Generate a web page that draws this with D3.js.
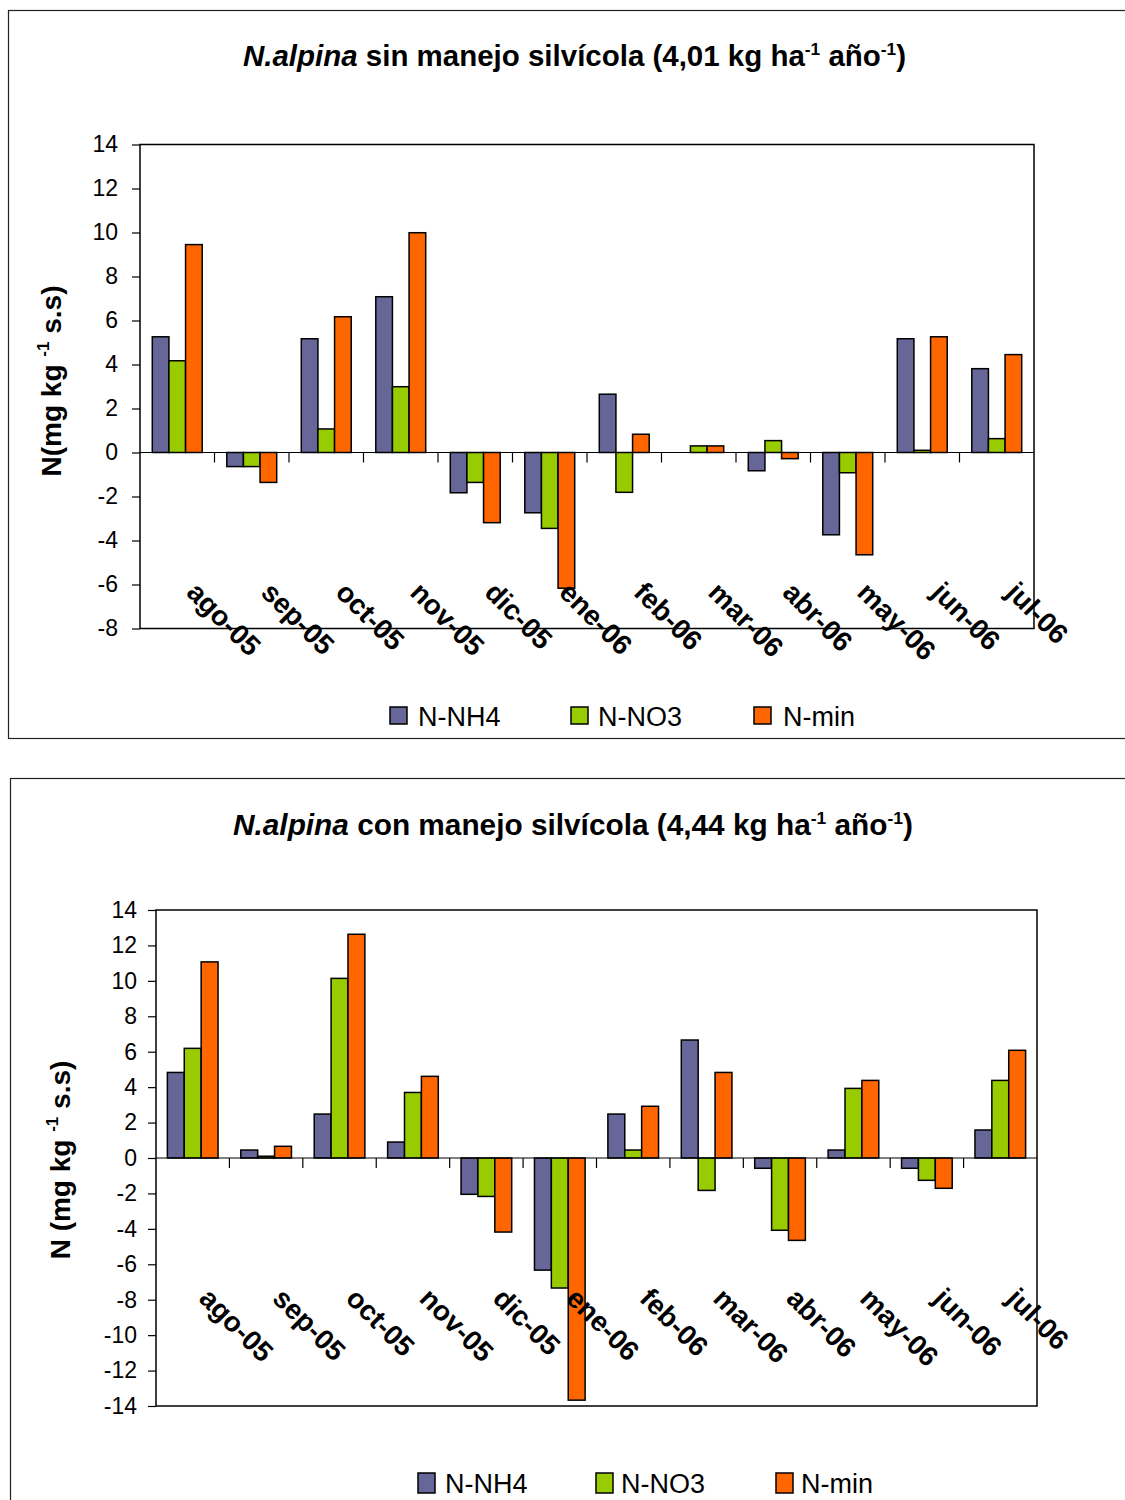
<!DOCTYPE html>
<html><head><meta charset="utf-8">
<script src="https://cdn.jsdelivr.net/npm/d3@7"></script>
<style>
html,body{margin:0;padding:0;background:#fff;}
svg{display:block;font-family:"Liberation Sans",Arial,sans-serif;}
</style></head>
<body>
<svg id="chart" width="1125" height="1500"></svg>
<script>
const categories = ["ago-05","sep-05","oct-05","nov-05","dic-05","ene-06","feb-06","mar-06","abr-06","may-06","jun-06","jul-06"];
const seriesNames = ["N-NH4","N-NO3","N-min"];
const seriesColors = ["#666699","#99CC00","#FF6600"];

const sinNH4  = [5.26,-0.64,5.17,7.08,-1.83,-2.74,2.65,0,-0.83,-3.74,5.17,3.81];
const sinNO3  = [4.17,-0.64,1.07,2.99,-1.36,-3.45,-1.81,0.3,0.54,-0.92,0.1,0.63];
const sinNmin = [9.45,-1.36,6.17,9.99,-3.19,-6.17,0.83,0.3,-0.28,-4.65,5.26,4.45];

const conNH4  = [4.83,0.45,2.48,0.9,-2.05,-6.33,2.48,6.66,-0.58,0.45,-0.58,1.58];
const conNO3  = [6.19,0.1,10.14,3.7,-2.17,-7.34,0.45,-1.83,-4.08,3.93,-1.26,4.38];
const conNmin = [11.07,0.66,12.63,4.61,-4.18,-13.67,2.92,4.83,-4.65,4.38,-1.71,6.08];

const sinTicks = [14,12,10,8,6,4,2,0,-2,-4,-6,-8];
const conTicks = [14,12,10,8,6,4,2,0,-2,-4,-6,-8,-10,-12,-14];

const svg = d3.select("#chart");

function drawChart(cfg){
  const g = svg.append("g");
  g.append("rect").attr("x",cfg.frame[0]+0.5).attr("y",cfg.frame[1]+0.5)
    .attr("width",cfg.frame[2]).attr("height",cfg.frame[3])
    .attr("fill","none").attr("stroke","#222").attr("stroke-width",1.2);

  const t = g.append("text").attr("x",cfg.titleX).attr("y",cfg.titleY)
    .attr("font-size",29).attr("font-weight","bold").attr("fill","#000")
    .attr("textLength",cfg.titleLen).attr("lengthAdjust","spacingAndGlyphs");
  t.append("tspan").attr("font-style","italic").text("N.alpina");
  t.append("tspan").text(cfg.titleMid);
  t.append("tspan").attr("font-size",17).attr("dy",-11).text("-1");
  t.append("tspan").attr("dy",11).text(" año");
  t.append("tspan").attr("font-size",17).attr("dy",-11).text("-1");
  t.append("tspan").attr("dy",11).text(")");

  const L = cfg.plot[0], T = cfg.plot[1], R = cfg.plot[2], B = cfg.plot[3];
  const y = d3.scaleLinear().domain([cfg.ymin, 14]).range([B, T]);
  const x0 = d3.scaleBand().domain(categories).range([L, R])
    .paddingInner(cfg.pad).paddingOuter(cfg.pad/2);
  const x1 = d3.scaleBand().domain(seriesNames).range([0, x0.bandwidth()]);

  g.append("rect").attr("x",L).attr("y",T).attr("width",R-L).attr("height",B-T)
    .attr("fill","#fff").attr("stroke","#000").attr("stroke-width",1.5);

  const ya = g.append("g").attr("transform",`translate(${L},0)`)
    .call(d3.axisLeft(y).tickValues(cfg.ticks).tickSize(8).tickPadding(cfg.tickPad).tickFormat(d=>String(d)));
  ya.select(".domain").remove();
  ya.selectAll("line").attr("stroke","#000").attr("stroke-width",1.2);
  ya.selectAll("text").attr("font-size",23).attr("fill","#000")
    .attr("font-family","Liberation Sans, Arial, sans-serif");

  const rows = categories.map((c,i)=>({c, vals:cfg.series.map((s,j)=>({k:seriesNames[j], v:s[i], col:seriesColors[j]}))}));
  const grp = g.selectAll(".grp").data(rows).join("g")
    .attr("transform",d=>`translate(${x0(d.c)},0)`);
  grp.selectAll("rect").data(d=>d.vals.filter(v=>v.v!==0)).join("rect")
    .attr("x",d=>x1(d.k)).attr("width",x1.bandwidth())
    .attr("y",d=>y(Math.max(0,d.v))).attr("height",d=>Math.abs(y(d.v)-y(0)))
    .attr("fill",d=>d.col).attr("stroke","#000").attr("stroke-width",1.5);

  g.append("line").attr("x1",L).attr("x2",R).attr("y1",y(0)).attr("y2",y(0))
    .attr("stroke","#000").attr("stroke-width",1.2);
  const step = x0.step();
  d3.range(1, categories.length).forEach(i=>{
    const xx = L + step*i;
    g.append("line").attr("x1",xx).attr("x2",xx).attr("y1",y(0)).attr("y2",y(0)+10)
      .attr("stroke","#000").attr("stroke-width",1.2);
  });

  g.selectAll(".xl").data(categories).join("text")
    .attr("transform",d=>`translate(${x0(d)+x0.bandwidth()/2+cfg.labDx},${cfg.labY}) rotate(45)`)
    .attr("font-size",28).attr("font-weight","bold").attr("fill","#000")
    .text(d=>d);

  const yt = g.append("text").attr("transform",`translate(${cfg.ytX},${cfg.ytY}) rotate(-90)`)
    .attr("text-anchor","middle").attr("font-size",28).attr("font-weight","bold").attr("fill","#000");
  yt.append("tspan").text(cfg.ytPre);
  yt.append("tspan").attr("font-size",17).attr("dy",-12).text("-1");
  yt.append("tspan").attr("dy",12).text("  s.s)");

  cfg.legend.forEach((lx,j)=>{
    g.append("rect").attr("x",lx).attr("y",cfg.legY).attr("width",cfg.legW).attr("height",cfg.legH)
      .attr("fill",seriesColors[j]).attr("stroke","#000").attr("stroke-width",1.5);
    g.append("text").attr("x",cfg.legText[j]).attr("y",cfg.legTY)
      .attr("font-size",27).attr("fill","#000").text(seriesNames[j]);
  });
}

drawChart({
  frame:[8,10,1200,728],
  titleX:243, titleY:66, titleLen:663, titleMid:" sin manejo silvícola (4,01 kg ha",
  plot:[140,144.5,1034,628.5], ymin:-8, ticks:sinTicks, tickPad:14, pad:0.33,
  series:[sinNH4,sinNO3,sinNmin],
  labDx:8, labY:594,
  ytX:61, ytY:381, ytPre:"N(mg kg ",
  legend:[390,571,754], legY:707, legW:17, legH:17, legText:[418,598,783], legTY:726
});

drawChart({
  frame:[10,778,1200,800],
  titleX:233, titleY:835, titleLen:680, titleMid:" con manejo silvícola  (4,44 kg ha",
  plot:[156,910,1037,1406], ymin:-14, ticks:conTicks, tickPad:11, pad:0.31,
  series:[conNH4,conNO3,conNmin],
  labDx:5, labY:1300,
  ytX:70, ytY:1160, ytPre:"N (mg kg ",
  legend:[418,596,776], legY:1473, legW:17, legH:20, legText:[445,621,801], legTY:1493
});
</script>
</body></html>
